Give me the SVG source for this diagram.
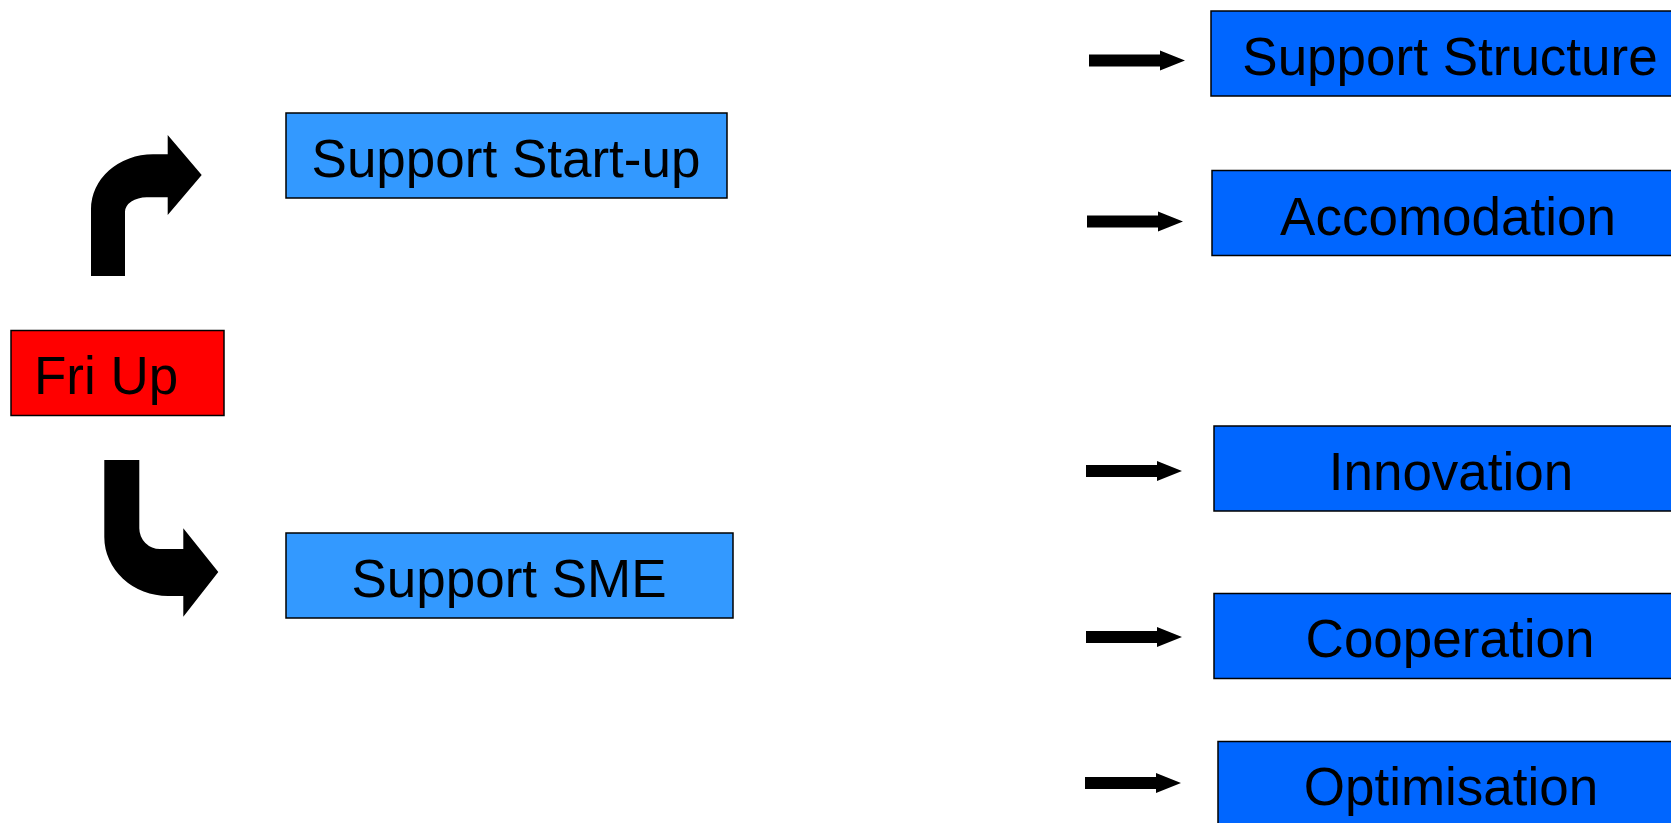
<svg xmlns="http://www.w3.org/2000/svg" width="1671" height="823" viewBox="0 0 1671 823">
<defs>
<style>
.box{stroke:#000;stroke-width:1.5}
.red{fill:#ff0000}
.light{fill:#3399ff}
.blue{fill:#0066ff}
.t{font-family:"Liberation Sans",Arial,sans-serif;font-size:53px;fill:#000}
.c{text-anchor:middle}
.arr{fill:#000}
</style>
<g id="sarrow">
<path class="arr" d="M0 -6 L71 -6 L71 -10 L96 0 L71 10 L71 6 L0 6 Z"/>
</g>
</defs>
<rect width="1671" height="823" fill="#fff"/>
<g id="connectors">
<path class="arr" d="M91 276 L91 209 A62 54.7 0 0 1 153 154.3 L167.7 154.3 L167.7 135 L201.7 175 L167.7 215 L167.7 197.3 L146.7 197.3 A21.7 14.3 0 0 0 125 211.6 L125 276 Z"/>
<path class="arr" d="M104.3 460 L139.3 460 L139.3 528.3 A20.7 20.7 0 0 0 160 549 L183.3 549 L183.3 528.3 L218.3 572 L183.3 616.7 L183.3 596 L168 596 A63.7 59 0 0 1 104.3 537 Z"/>
<use href="#sarrow" x="1089" y="60.5"/>
<use href="#sarrow" x="1087" y="221.5"/>
<use href="#sarrow" x="1086" y="471"/>
<use href="#sarrow" x="1086" y="637"/>
<use href="#sarrow" x="1085" y="783"/>
</g>
<g id="fri-up">
<rect class="box red" x="11" y="330.5" width="213" height="85"/>
<text class="t" x="34" y="394">Fri Up</text>
</g>
<g id="support-startup">
<rect class="box light" x="286" y="113" width="441" height="85"/>
<text class="t c" x="506" y="177">Support Start-up</text>
</g>
<g id="support-sme">
<rect class="box light" x="286" y="533" width="447" height="85"/>
<text class="t c" x="509" y="597">Support SME</text>
</g>
<g id="support-structure">
<rect class="box blue" x="1211" y="11" width="480" height="85"/>
<text class="t c" x="1450" y="75">Support Structure</text>
</g>
<g id="accomodation">
<rect class="box blue" x="1212" y="170.5" width="480" height="85"/>
<text class="t c" x="1448" y="234.5">Accomodation</text>
</g>
<g id="innovation">
<rect class="box blue" x="1214" y="426" width="480" height="85"/>
<text class="t c" x="1451" y="490">Innovation</text>
</g>
<g id="cooperation">
<rect class="box blue" x="1214" y="593.5" width="480" height="85"/>
<text class="t c" x="1450" y="657">Cooperation</text>
</g>
<g id="optimisation">
<rect class="box blue" x="1218" y="741.5" width="480" height="100"/>
<text class="t c" x="1451" y="805">Optimisation</text>
</g>
</svg>
